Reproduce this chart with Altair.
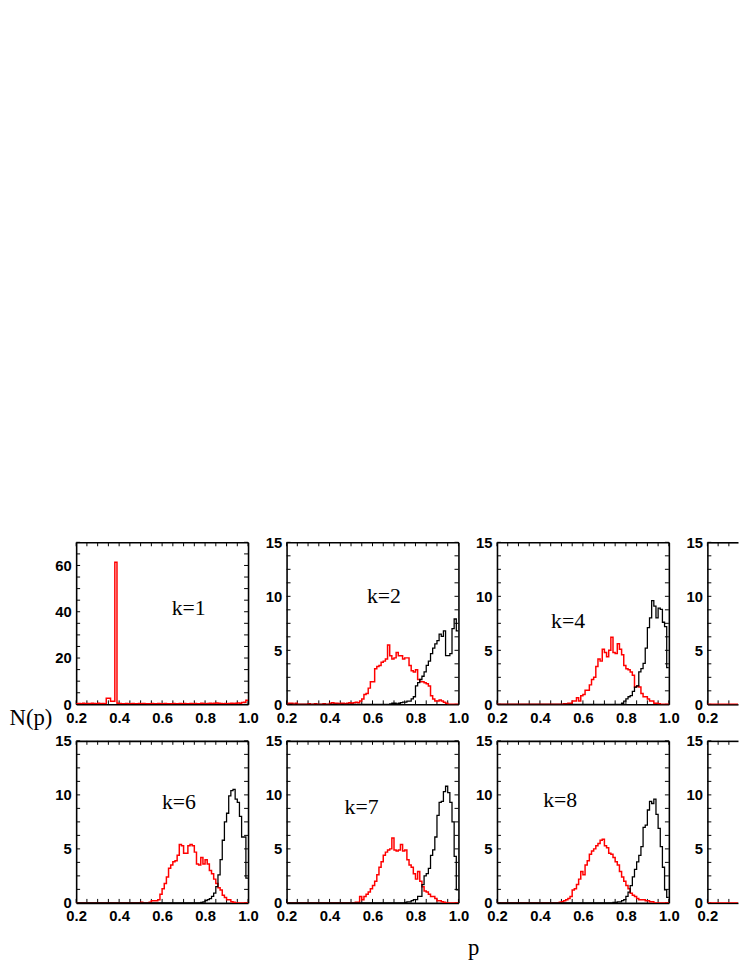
import altair as alt
import pandas as pd

# ---------------- data (histograms, 0.01-wide bins, left edges 0.20 ... 0.99) ----------------
BIN_LEFT = [round(0.20 + 0.01 * i, 2) for i in range(80)]

RED_K1 = [0.3, 0.4, 0.3, 0.5, 0.3, 0.4, 0.3, 0.5, 0.4, 0.3,
          0.5, 0.3, 0.4, 0.3, 2.6, 2.6, 1.3, 1.3, 61.4, 0.5,
          0.4, 0.3, 0.3, 0.4, 0.2, 0.3, 0.4, 0.3, 0.3, 0.4,
          0.3, 0.4, 0.3, 0.2, 0.3, 0.4, 0.3, 0.3, 0.4, 0.3,
          0.3, 0.4, 0.3, 0.3, 0.2, 0.4, 0.3, 0.3, 0.4, 0.3,
          0.4, 0.3, 0.3, 0.4, 0.3, 0.4, 0.3, 0.3, 0.5, 0.4,
          0.3, 0.4, 0.5, 0.4, 0.5, 0.6, 0.5, 0.4, 0.3, 0.4,
          0.3, 0.4, 0.5, 0.4, 0.5, 0.6, 0.5, 0.8, 0.9, 1.8]

RED_K2_START = 0.21
RED_K2 = [0.1, 0.1, 0.0, 0.1, 0.0, 0.0, 0.0, 0.0, 0.0,
          0.05, 0.0, 0.0, 0.05, 0.0, 0.0, 0.0, 0.05, 0.0, 0.0,
          0.1, 0.15, 0.1, 0.1, 0.05, 0.1, 0.1, 0.05, 0.1, 0.15,
          0.1, 0.15, 0.2, 0.15, 0.3, 0.5, 0.9, 1.0, 1.5, 2.1,
          2.1, 3.3, 3.5, 3.6, 3.9, 4.0, 4.2, 5.5, 4.5, 4.2,
          4.3, 4.8, 4.5, 4.5, 4.2, 4.3, 4.3, 3.6, 3.1, 3.0,
          3.2, 2.3, 2.1, 2.1, 2.0, 1.9, 1.7, 0.8, 0.5, 0.3,
          0.3, 0.4, 0.3, 0.2, 0.1]
BLACK_K2_START = 0.68
BLACK_K2 = [0.05, 0.1, 0.1, 0.05, 0.1, 0.15, 0.2, 0.2, 0.3, 0.3, 0.5, 0.7,
            1.7, 2.0, 2.3, 2.6, 3.0, 3.6, 4.0, 4.7, 5.2, 5.6, 5.9, 6.5,
            6.3, 6.8, 4.5, 4.5, 4.7, 7.0, 7.9, 6.8]

RED_K4_START = 0.51
RED_K4 = [0.05, 0.05, 0.1, 0.1, 0.3, 0.3, 0.6, 0.3, 0.8,
          0.9, 1.3, 1.3, 1.8, 2.3, 2.5, 3.5, 4.2, 4.0, 5.1,
          4.8, 4.4, 5.0, 6.2, 4.8, 4.7, 5.6, 5.1, 4.6, 3.6,
          3.3, 3.2, 3.0, 2.7, 1.6, 1.7, 1.6, 1.0, 0.7, 0.7,
          0.5, 0.3, 0.3, 0.1, 0.1, 0.05]
BLACK_K4_START = 0.78
BLACK_K4 = [0.1, 0.3, 0.5, 0.7, 0.8, 1.2, 1.6, 1.7, 3.0, 3.3, 3.8,
            5.2, 7.1, 8.0, 9.6, 9.1, 8.0, 8.9, 8.8, 7.6, 7.2, 3.4]

RED_K6_START = 0.50
RED_K6 = [0.05, 0.0, 0.0, 0.0, 0.05, 0.2, 0.2, 0.2, 0.3, 0.8,
          1.3, 1.8, 2.4, 3.2, 3.5, 3.8, 3.9, 4.4, 5.4, 5.3,
          4.6, 4.6, 5.3, 5.4, 5.3, 4.7, 3.6, 3.5, 4.2, 3.6,
          4.0, 3.6, 3.0, 2.7, 2.2, 1.8, 1.4, 1.2, 0.7, 0.5,
          0.3, 0.3, 0.1, 0.05]
BLACK_K6_START = 0.78
BLACK_K6 = [0.05, 0.1, 0.2, 0.3, 0.4, 0.6, 0.9, 1.5, 2.6, 4.0, 5.8,
            7.5, 8.3, 9.9, 10.4, 10.5, 9.6, 9.3, 8.0, 6.1, 6.1, 2.3]

RED_K7_START = 0.52
RED_K7 = [0.05, 0.05, 0.6, 0.3, 0.6, 0.8, 1.0, 1.3,
          1.6, 2.0, 2.6, 3.3, 3.8, 4.4, 4.7, 4.9, 5.0, 6.0,
          4.9, 4.8, 4.9, 5.4, 4.8, 4.9, 4.0, 3.5, 3.3, 2.7,
          2.2, 2.9, 2.0, 1.5, 1.1, 1.0, 0.8, 0.6, 0.6, 0.4,
          0.2, 0.2, 0.1, 0.05]
BLACK_K7_START = 0.75
BLACK_K7 = [0.05, 0.1, 0.1, 0.2, 0.3, 0.3, 0.6, 0.6, 1.7, 2.5, 2.7, 3.2,
            4.4, 4.9, 6.1, 8.1, 9.3, 9.4, 10.3, 10.8, 10.2, 9.3, 7.5, 4.3, 1.2]

RED_K8_START = 0.49
RED_K8 = [0.05, 0.1, 0.2, 0.3, 0.4, 0.6, 1.2, 1.3, 1.7, 2.2, 2.9,
          2.6, 3.5, 3.9, 4.5, 4.8, 5.0, 5.3, 5.5, 5.8, 5.9,
          5.3, 5.1, 4.6, 4.5, 4.2, 3.8, 3.5, 2.9, 2.4, 2.0,
          1.6, 1.3, 0.9, 0.7, 0.6, 0.4, 0.3, 0.3, 0.3, 0.2,
          0.2, 0.1, 0.1]
BLACK_K8_START = 0.74
BLACK_K8 = [0.05, 0.05, 0.1, 0.1, 0.2, 0.3, 0.6, 1.0, 1.6, 2.4, 3.1, 3.8, 4.4,
            5.2, 7.0, 7.2, 8.6, 9.4, 9.2, 9.6, 8.2, 6.9, 5.2, 3.3, 1.2, 0.5]

RED_HIDDEN = [0.0] * 80   # right-hand column, cut off by the page edge

K_LABELS = ["k=1", "k=2", "k=4", "k=6", "k=7", "k=8"]
K_LABEL_P = [0.724, 0.653, 0.531, 0.678, 0.549, 0.494]
K_LABEL_N = [41.7, 10.0, 7.7, 9.3, 8.9, 9.5]

X_MAJOR = [0.2, 0.4, 0.6, 0.8, 1.0]
X_MINOR_STEP = 0.05
Y15_MAJOR = [0, 5, 10, 15]
Y70_MAJOR = [0, 20, 40, 60]


def full(start, values):
    out = [0.0] * 80
    i0 = int(round((start - 0.20) / 0.01))
    for j, v in enumerate(values):
        out[i0 + j] = v
    return out


# ---------------- styling helpers ----------------
W, H = 174, 164
TL = 4  # inward tick length (px)
LBL = dict(labelFont="Liberation Sans", labelFontWeight="bold", labelFontSize=15,
           labelColor="black", labelFlush=False, labelOverlap=False)
DOM = dict(domainColor="black", domainWidth=1.6, ticks=False, grid=False)
TITLE = dict(titleFont="Liberation Serif", titleFontSize=23, titleFontWeight="normal",
             titleColor="black", titleAngle=0, titleBaseline="alphabetic")


def panel(red, black, ymax, label_idx=None, xmax=1.0, width=W, right=True,
          xtitle=None, ytitle=None):
    rows = []
    for s, vals in (("red", red), ("black", black)):
        if vals is None:
            continue
        for p, n in zip(BIN_LEFT, vals):
            rows.append({"p": p, "n": n, "s": s})
        rows.append({"p": 1.0, "n": vals[-1], "s": s})
    df = pd.DataFrame(rows)

    xs = alt.Scale(domain=[0.2, xmax], nice=False, zero=False)
    ys = alt.Scale(domain=[0, ymax], nice=False, zero=True)
    xticks = [round(0.2 + X_MINOR_STEP * i, 2) for i in range(17)
              if 0.2 + X_MINOR_STEP * i <= xmax + 1e-9]
    xmaj = [v for v in X_MAJOR if v <= xmax + 1e-9]
    if ymax == 70:
        yticks = [5 * i for i in range(15)]
        ymaj = Y70_MAJOR
    else:
        yticks = [1.25 * i for i in range(13)]
        ymaj = Y15_MAJOR

    xkw = dict(orient="bottom", values=xmaj, format=".1f", labelPadding=6, **LBL, **DOM)
    if xtitle:
        xkw.update(title=xtitle, titleX=478 - 289, titleY=52, titleAlign="center", **TITLE)
    else:
        xkw.update(title=None)
    ykw = dict(orient="left", values=ymaj, format="d", labelPadding=5, **LBL, **DOM)
    if ytitle:
        ykw.update(title=ytitle, titleX=8 - 76, titleY=725 - 742, titleAlign="left", **TITLE)
    else:
        ykw.update(title=None)

    bottom = alt.Axis(**xkw)
    left = alt.Axis(**ykw)
    top = alt.Axis(orient="top", labels=False, title=None, **DOM)
    rgt = alt.Axis(orient="right", labels=False, title=None, **DOM)

    base = alt.Chart(df)
    mirror = base.mark_line(opacity=0, clip=True).encode(
        x=alt.X("p:Q", scale=xs, axis=top),
        y=alt.Y("n:Q", scale=ys, axis=rgt if right else None),
    )
    layers = [mirror]

    # inward tick marks on the frame
    xt = alt.Chart(pd.DataFrame({"t": xticks}))
    yt = alt.Chart(pd.DataFrame({"t": yticks}))
    tick_style = dict(color="black", strokeWidth=1)
    layers.append(xt.mark_rule(**tick_style).encode(
        x=alt.X("t:Q", scale=xs, axis=None), y=alt.value(H), y2=alt.value(H - TL)))
    layers.append(xt.mark_rule(**tick_style).encode(
        x=alt.X("t:Q", scale=xs, axis=None), y=alt.value(0), y2=alt.value(TL)))
    layers.append(yt.mark_rule(**tick_style).encode(
        y=alt.Y("t:Q", scale=ys, axis=None), x=alt.value(0), x2=alt.value(TL)))
    if right:
        layers.append(yt.mark_rule(**tick_style).encode(
            y=alt.Y("t:Q", scale=ys, axis=None), x=alt.value(width), x2=alt.value(width - TL)))

    red_l = base.transform_filter(alt.datum.s == "red").mark_line(
        interpolate="step-after", color="#ff0000", strokeWidth=1.5, clip=True
    ).encode(
        x=alt.X("p:Q", scale=xs, axis=bottom),
        y=alt.Y("n:Q", scale=ys, axis=left),
    )
    layers.append(red_l)
    if black is not None:
        blk = base.transform_filter(alt.datum.s == "black").mark_line(
            interpolate="step-after", color="#000000", strokeWidth=1.3, clip=True
        ).encode(
            x=alt.X("p:Q", scale=xs, axis=None),
            y=alt.Y("n:Q", scale=ys, axis=None),
        )
        layers.append(blk)
    if label_idx is not None:
        tdf = pd.DataFrame({"p": [K_LABEL_P[label_idx]], "n": [K_LABEL_N[label_idx]],
                            "t": [K_LABELS[label_idx]]})
        txt = alt.Chart(tdf).mark_text(font="Liberation Serif", fontSize=22, color="black",
                                       align="center", baseline="middle").encode(
            x=alt.X("p:Q", scale=xs, axis=None),
            y=alt.Y("n:Q", scale=ys, axis=None),
            text="t:N",
        )
        layers.append(txt)
    return alt.layer(*layers).resolve_axis(x="independent", y="independent").properties(
        width=width, height=H)


HIDDEN_XMAX = 0.2 + 31 / 174 * 0.8

p1 = panel(RED_K1, None, 70, 0)
p2 = panel(full(RED_K2_START, RED_K2), full(BLACK_K2_START, BLACK_K2), 15, 1)
p3 = panel(full(RED_K4_START, RED_K4), full(BLACK_K4_START, BLACK_K4), 15, 2)
p4 = panel(RED_HIDDEN, None, 15, None, xmax=HIDDEN_XMAX, width=31, right=False)
p6 = panel(full(RED_K6_START, RED_K6), full(BLACK_K6_START, BLACK_K6), 15, 3, ytitle="N(p)")
p7 = panel(full(RED_K7_START, RED_K7), full(BLACK_K7_START, BLACK_K7), 15, 4, xtitle="p")
p8 = panel(full(RED_K8_START, RED_K8), full(BLACK_K8_START, BLACK_K8), 15, 5)
p9 = panel(RED_HIDDEN, None, 15, None, xmax=HIDDEN_XMAX, width=31, right=False)

chart = alt.concat(p1, p2, p3, p4, p6, p7, p8, p9, columns=4,
                   spacing={"row": 37, "column": 39}, bounds="flush").properties(
    padding={"left": 0, "top": 527, "right": 0, "bottom": 0},
    background="white",
).configure_view(stroke="transparent")

chart.save("out.html", embed_options={"renderer": "svg", "actions": False})
